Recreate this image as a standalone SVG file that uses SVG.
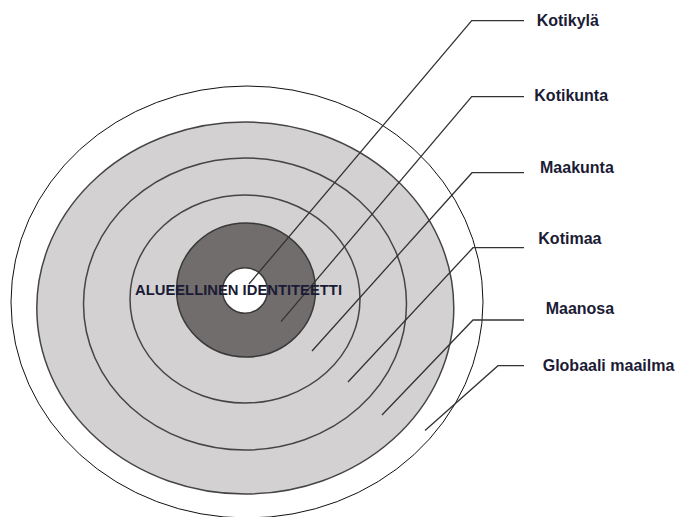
<svg xmlns="http://www.w3.org/2000/svg" width="676" height="517" viewBox="0 0 676 517">
<style>
.ring{fill:#d3d1d2;stroke:#454545;stroke-width:1.5}
.conn{fill:none;stroke:#333;stroke-width:1.3}
.lbl{font-family:"Liberation Sans",Arial,sans-serif;font-weight:bold;font-size:16px;fill:#1b1b35}
.ctr{font-family:"Liberation Sans",Arial,sans-serif;font-weight:bold;font-size:14.5px;fill:#1b1b35}
</style>
<rect width="676" height="517" fill="#fff"/>
<g id="globaali-maailma"><ellipse cx="247" cy="302" rx="236" ry="216" fill="#fff" stroke="#111" stroke-width="1"/></g>
<g id="maanosa"><ellipse class="ring" cx="245.3" cy="308" rx="208.5" ry="186"/></g>
<g id="kotimaa"><ellipse class="ring" cx="245" cy="304" rx="161.5" ry="146"/></g>
<g id="maakunta"><ellipse class="ring" cx="245" cy="299" rx="115" ry="104"/></g>
<g id="kotikunta"><ellipse cx="246" cy="290" rx="69.5" ry="67" fill="#716d6d" stroke="#3a3a3a" stroke-width="1.5"/></g>
<g id="kotikyla"><ellipse cx="245" cy="290.5" rx="22.5" ry="22.8" fill="#fff" stroke="#3a3a3a" stroke-width="1.5"/></g>
<g id="connectors">
<polyline class="conn" points="524,20.7 471.7,20.7 249,284"/>
<polyline class="conn" points="524,96.7 471.7,96.7 281,321.7"/>
<polyline class="conn" points="524,172.7 472,172.7 312,351"/>
<polyline class="conn" points="524,247.7 473,247.7 348,382"/>
<polyline class="conn" points="524,320 473,320 382,415"/>
<polyline class="conn" points="524,365.7 498,365.7 425,430.5"/>
</g>
<g id="center-label"><text class="ctr" x="135" y="295" textLength="207" lengthAdjust="spacingAndGlyphs">ALUEELLINEN IDENTITEETTI</text></g>
<g id="labels">
<text class="lbl" x="536.7" y="25.5">Kotikylä</text>
<text class="lbl" x="534.3" y="100.7">Kotikunta</text>
<text class="lbl" x="540" y="173.3">Maakunta</text>
<text class="lbl" x="538.3" y="244">Kotimaa</text>
<text class="lbl" x="545.7" y="314.3">Maanosa</text>
<text class="lbl" x="542.7" y="370.7">Globaali maailma</text>
</g>
</svg>
